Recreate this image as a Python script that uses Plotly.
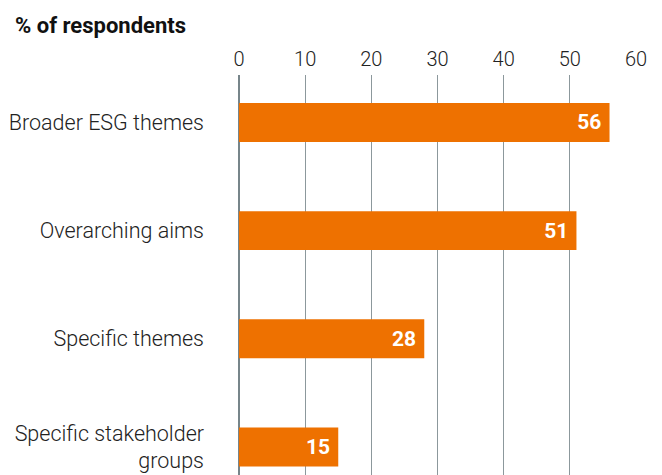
import plotly.graph_objects as go

categories = ["Broader ESG themes", "Overarching aims", "Specific themes", "Specific stakeholder<br>groups"]
values = [56, 51, 28, 15]
tick_vals = [0, 10, 20, 30, 40, 50, 60]

L, R, T, B = 231, 34, 67, 8
PW = 662 - L - R
PH = 475 - T - B

fig = go.Figure()
fig.add_trace(go.Bar(
    x=values, y=categories, orientation="h",
    marker=dict(color="#EE7100", line=dict(width=0)),
    width=0.36,
    text=[f"{v}\u00a0" for v in values],
    textposition="inside", insidetextanchor="end",
    textfont=dict(family="Roboto", size=21, color="white", weight="bold"),
    cliponaxis=False,
))

fig.update_layout(
    width=662, height=475,
    margin=dict(l=L, r=R, t=T, b=B),
    plot_bgcolor="white", paper_bgcolor="white",
    showlegend=False,
    font=dict(family="Roboto", color="#222222"),
    xaxis=dict(
        side="top", range=[0, 60], tickvals=tick_vals, automargin=False,
        showgrid=True, gridcolor="#8C989C", gridwidth=1,
        zeroline=True, zerolinecolor="#77858A", zerolinewidth=1.5,
        showline=False, ticks="",
        tickfont=dict(family="Roboto", size=20, color="#222222", weight=300),
        ticklabelstandoff=4,
    ),
    yaxis=dict(
        categoryorder="array", categoryarray=categories, automargin=False,
        range=[3.259, -0.439], showgrid=False, zeroline=False,
        ticks="", showline=False,
        tickfont=dict(family="Roboto", size=21.5, color="#222222", weight=300),
        ticklabelstandoff=34,
    ),
    annotations=[dict(
        text="<b>% of respondents</b>", xref="paper", yref="paper",
        x=-L / PW, y=1 + (T - 17) / PH, xanchor="left", yanchor="middle",
        showarrow=False, font=dict(family="Roboto", size=22, color="#111111"),
        xshift=5,
    )],
)

fig.write_html("out.html")
